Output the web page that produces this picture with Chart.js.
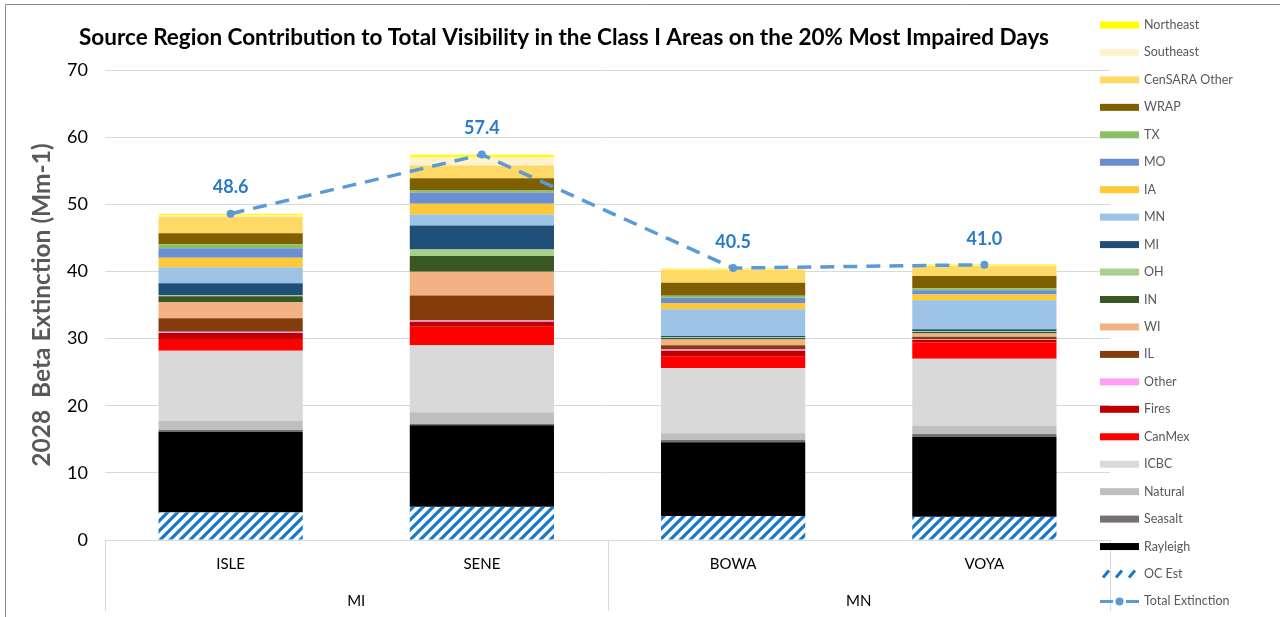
<!DOCTYPE html>
<html>
<head>
  <title>Source Region Contribution</title>
  <script src="https://cdn.jsdelivr.net/npm/chart.js"></script>
  <style>
    body { margin: 0; background: #fff; }
  </style>
</head>
<body>
<canvas id="myChart" width="1280" height="617"></canvas>
<script>
  // sites along the axis and the state each one sits under
  const sites  = ['ISLE', 'SENE', 'BOWA', 'VOYA'];
  const states = ['MI', 'MI', 'MN', 'MN'];

  // extinction by source (Mm-1), bottom of the stack first
  const ocEst     = [4.13, 4.96, 3.57, 3.47];
  const rayleigh  = [12.0, 12.12, 10.98, 11.92];
  const seasalt   = [0.25, 0.2, 0.34, 0.4];
  const natural   = [1.34, 1.74, 1.0, 1.19];
  const icbc      = [10.47, 9.98, 9.68, 10.02];
  const canMex    = [1.74, 2.77, 1.73, 2.44];
  const fires     = [0.89, 0.74, 0.89, 0.34];
  const other     = [0.2, 0.2, 0.2, 0.1];
  const il        = [2.0, 3.72, 0.6, 0.4];
  const wi        = [2.38, 3.53, 0.89, 0.49];
  const inState   = [0.89, 2.32, 0.2, 0.2];
  const oh        = [0.2, 1.0, 0.1, 0.15];
  const mi        = [1.74, 3.57, 0.2, 0.25];
  const mn        = [2.38, 1.64, 3.98, 4.32];
  const ia        = [1.43, 1.59, 0.94, 0.89];
  const mo        = [1.4, 1.64, 0.79, 0.6];
  const tx        = [0.6, 0.34, 0.3, 0.3];
  const wrap      = [1.64, 1.83, 1.94, 1.83];
  const cenSara   = [2.47, 1.89, 1.92, 1.55];
  const southeast = [0.25, 1.24, 0.15, 0.1];
  const northeast = [0.2, 0.35, 0.1, 0.1];
  const totalExt  = [48.6, 57.4, 40.5, 41.0];

  const FONT = 'Lato, "Open Sans", sans-serif';
  const LINE_BLUE = '#5b9bd5';

  function hatch(color) {
    const c = document.createElement('canvas');
    c.width = 10; c.height = 10;
    const g = c.getContext('2d');
    g.strokeStyle = color;
    g.lineWidth = 3.2;
    g.beginPath();
    g.moveTo(-2, 12); g.lineTo(12, -2);
    g.moveTo(-7, 7); g.lineTo(7, -7);
    g.moveTo(3, 17); g.lineTo(17, 3);
    g.stroke();
    return g.createPattern(c, 'repeat');
  }
  const ocFill = hatch('#1a78c8');

  const layers = [
    ['OC Est', ocEst, ocFill],
    ['Rayleigh', rayleigh, '#000000'],
    ['Seasalt', seasalt, '#767171'],
    ['Natural', natural, '#bfbfbf'],
    ['ICBC', icbc, '#d9d9d9'],
    ['CanMex', canMex, '#ff0000'],
    ['Fires', fires, '#c00000'],
    ['Other', other, '#ff9ff3'],
    ['IL', il, '#843c0c'],
    ['WI', wi, '#f4b183'],
    ['IN', inState, '#385723'],
    ['OH', oh, '#a9d18e'],
    ['MI', mi, '#1f4e79'],
    ['MN', mn, '#9dc3e6'],
    ['IA', ia, '#ffc935'],
    ['MO', mo, '#698fd0'],
    ['TX', tx, '#8cc068'],
    ['WRAP', wrap, '#7f6000'],
    ['CenSARA Other', cenSara, '#ffd966'],
    ['Southeast', southeast, '#fff2cc'],
    ['Northeast', northeast, '#ffff00']
  ];

  const datasets = layers.map(([label, data, color]) => ({
    type: 'bar',
    label: label,
    data: data,
    backgroundColor: color,
    borderWidth: 0,
    stack: 'sources',
    order: 1,
    categoryPercentage: 1,
    barPercentage: 0.574
  }));

  datasets.push({
    type: 'line',
    label: 'Total Extinction',
    data: totalExt,
    borderColor: LINE_BLUE,
    borderWidth: 3.5,
    borderDash: [14, 9],
    pointRadius: 4,
    pointBackgroundColor: LINE_BLUE,
    pointBorderWidth: 0,
    stack: 'total',
    order: 0,
    fill: false
  });

  // title, frame, state grouping, value labels and the side legend
  const decor = {
    id: 'decor',
    afterDraw(chart) {
      const ctx = chart.ctx;
      const x = chart.scales.x;
      const area = chart.chartArea;
      ctx.save();

      ctx.strokeStyle = '#8c8c8c';
      ctx.lineWidth = 1;
      ctx.beginPath();
      ctx.moveTo(5.5, 617); ctx.lineTo(5.5, 4.5); ctx.lineTo(1280, 4.5);
      ctx.stroke();

      ctx.fillStyle = '#000';
      ctx.font = 'bold 22.5px ' + FONT;
      ctx.textAlign = 'center';
      ctx.textBaseline = 'middle';
      ctx.fillText('Source Region Contribution to Total Visibility in the Class I Areas on the 20% Most Impaired Days', 564, 38);

      // state groups under the site labels
      const half = (x.getPixelForValue(1) - x.getPixelForValue(0)) / 2;
      const groups = [];
      states.forEach((s, i) => {
        const last = groups[groups.length - 1];
        if (last && last.name === s) last.end = i;
        else groups.push({ name: s, start: i, end: i });
      });
      ctx.strokeStyle = '#d9d9d9';
      ctx.beginPath();
      groups.forEach(g => {
        const l = Math.round(x.getPixelForValue(g.start) - half) + 0.5;
        const r = Math.round(x.getPixelForValue(g.end) + half) + 0.5;
        ctx.moveTo(l, area.bottom); ctx.lineTo(l, 611);
        ctx.moveTo(r, area.bottom); ctx.lineTo(r, 611);
      });
      ctx.stroke();
      ctx.font = '15px ' + FONT;
      ctx.fillStyle = '#000';
      groups.forEach(g => {
        const c = (x.getPixelForValue(g.start) + x.getPixelForValue(g.end)) / 2;
        ctx.fillText(g.name, c, 601);
      });

      // value labels on the total line
      const lineMeta = chart.getDatasetMeta(datasets.length - 1);
      ctx.font = 'bold 18px ' + FONT;
      ctx.fillStyle = '#2a7bc8';
      lineMeta.data.forEach((pt, i) => {
        ctx.fillText(totalExt[i].toFixed(1), pt.x, pt.y - 26);
      });

      // legend, top entry is the top of the stack
      const items = layers.slice().reverse();
      items.push(['Total Extinction', null, 'line']);
      ctx.font = '12.5px ' + FONT;
      ctx.textAlign = 'left';
      items.forEach(([label, , color], i) => {
        const y = 25 + i * 27.45;
        const sx = 1100, sw = 39;
        if (color === 'line') {
          ctx.strokeStyle = LINE_BLUE;
          ctx.lineWidth = 3;
          ctx.beginPath();
          ctx.moveTo(sx, y); ctx.lineTo(sx + 13, y);
          ctx.moveTo(sx + 26, y); ctx.lineTo(sx + sw, y);
          ctx.stroke();
          ctx.fillStyle = LINE_BLUE;
          ctx.beginPath();
          ctx.arc(sx + sw / 2, y, 4, 0, Math.PI * 2);
          ctx.fill();
        } else if (color === ocFill) {
          ctx.strokeStyle = '#1a78c8';
          ctx.lineWidth = 3;
          ctx.beginPath();
          for (let k = 0; k < 3; k++) {
            const bx = sx + 3 + k * 13;
            ctx.moveTo(bx, y + 3.5); ctx.lineTo(bx + 6, y - 3.5);
          }
          ctx.stroke();
        } else {
          ctx.fillStyle = color;
          ctx.fillRect(sx, y - 3.5, sw, 7);
        }
        ctx.fillStyle = '#595959';
        ctx.fillText(label, 1144, y);
      });

      ctx.restore();
    }
  };

  new Chart(document.getElementById('myChart').getContext('2d'), {
    data: { labels: sites, datasets: datasets },
    plugins: [decor],
    options: {
      responsive: false,
      animation: false,
      layout: { padding: { top: 70, right: 170, left: 0, bottom: 0 } },
      plugins: {
        legend: { display: false },
        title: { display: false },
        tooltip: { enabled: false }
      },
      scales: {
        x: {
          stacked: true,
          grid: { display: false, drawTicks: false },
          border: { color: '#d9d9d9' },
          ticks: { color: '#000', padding: 15, font: { family: FONT, size: 15 } },
          afterFit: s => { s.height = 77; }
        },
        y: {
          stacked: true,
          min: 0,
          max: 70,
          ticks: { stepSize: 10, color: '#000', padding: 17, font: { family: FONT, size: 18 } },
          grid: { color: '#d9d9d9', drawTicks: false },
          border: { display: false },
          title: {
            display: true,
            text: '2028  Beta Extinction (Mm-1)',
            color: '#595959',
            font: { family: FONT, size: 24.5, weight: 'bold' },
            padding: { top: 27 }
          },
          afterFit: s => { s.width = 105; }
        }
      }
    }
  });
</script>
</body>
</html>
